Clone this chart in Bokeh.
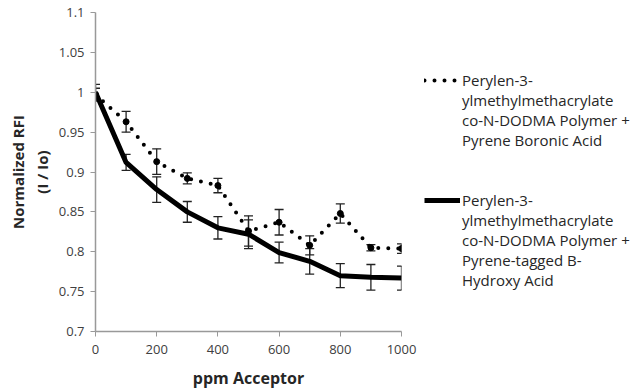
from bokeh.plotting import figure
from bokeh.models import (Range1d, Whisker, ColumnDataSource, Legend, LegendItem,
                          FixedTicker, TeeHead)
from bokeh.embed import file_html
from bokeh.resources import INLINE

ppm = [0, 100, 200, 300, 400, 500, 600, 700, 800, 900, 1000]
boronic = [0.997, 0.963, 0.913, 0.892, 0.883, 0.826, 0.837, 0.808, 0.848, 0.805, 0.804]
boronic_err = [0.008, 0.013, 0.016, 0.007, 0.009, 0.019, 0.016, 0.012, 0.012, 0.004, 0.006]
hydroxy = [1.0, 0.912, 0.878, 0.850, 0.830, 0.822, 0.799, 0.788, 0.770, 0.768, 0.767]
hydroxy_err = [0.010, 0.010, 0.016, 0.013, 0.014, 0.018, 0.013, 0.016, 0.015, 0.016, 0.015]
x_ticks = [0, 200, 400, 600, 800, 1000]
y_ticks = [0.7, 0.75, 0.8, 0.85, 0.9, 0.95, 1.0, 1.05, 1.1]
y_tick_labels = {0.7: "0.7", 0.75: "0.75", 0.8: "0.8", 0.85: "0.85", 0.9: "0.9",
                 0.95: "0.95", 1.0: "1", 1.05: "1.05", 1.1: "1.1"}
label_boronic = ["Perylen-3-", "ylmethylmethacrylate\nco-N-DODMA Polymer +\nPyrene Boronic Acid"]
label_hydroxy = ["Perylen-3-", "ylmethylmethacrylate\nco-N-DODMA Polymer +\nPyrene-tagged B-\nHydroxy Acid"]

FONT = "Open Sans"
GREY = "#404040"
TEXT = "#262626"

p = figure(output_backend="svg", toolbar_location=None,
           x_range=Range1d(0, 1000), y_range=Range1d(0.7, 1.1),
           min_border_left=88, min_border_right=0, min_border_top=12, min_border_bottom=45)
p.frame_width = 306
p.frame_height = 319
p.margin = (0, 0, 0, 4)
p.outline_line_color = None
p.background_fill_color = "white"
p.grid.visible = False

for ax in (p.xaxis[0], p.yaxis[0]):
    ax.axis_line_color = "#999999"
    ax.axis_line_width = 1.5
    ax.major_tick_line_color = "#999999"
    ax.major_tick_in = 0
    ax.major_tick_out = 5
    ax.minor_tick_line_color = None
    ax.major_label_text_font = FONT
    ax.major_label_text_font_size = "13px"
    ax.major_label_text_color = GREY
    ax.axis_label_text_font = FONT
    ax.axis_label_text_font_style = "bold"
    ax.axis_label_text_color = TEXT

p.xaxis.ticker = FixedTicker(ticks=x_ticks)
p.yaxis.ticker = FixedTicker(ticks=y_ticks)
p.yaxis.major_label_overrides = y_tick_labels
p.xaxis.major_label_standoff = 8
p.yaxis.major_label_standoff = 6
p.xaxis.axis_label = "ppm Acceptor"
p.yaxis.axis_label = "Normalized RFI\n(I / Io)"
p.xaxis.axis_label_text_font_size = "16px"
p.yaxis.axis_label_text_font_size = "15px"
p.xaxis.axis_label_standoff = 10
p.yaxis.axis_label_standoff = 4

src_b = ColumnDataSource(dict(x=ppm, y=boronic,
                              lo=[v - e for v, e in zip(boronic, boronic_err)],
                              hi=[v + e for v, e in zip(boronic, boronic_err)]))
src_h = ColumnDataSource(dict(x=ppm, y=hydroxy,
                              lo=[v - e for v, e in zip(hydroxy, hydroxy_err)],
                              hi=[v + e for v, e in zip(hydroxy, hydroxy_err)]))

r_b = p.line("x", "y", source=src_b, line_color="black", line_width=4,
             line_dash="0 10", line_cap="round")
p.scatter("x", "y", source=src_b, size=6, color="black")
r_h = p.line("x", "y", source=src_h, line_color="black", line_width=5, line_join="round")
r_blank = p.line("x", "y", source=src_h, line_alpha=0)

for src in (src_b, src_h):
    w = Whisker(base="x", upper="hi", lower="lo", source=src,
                line_color="#222222", line_width=1.3,
                upper_head=TeeHead(size=9, line_color="#222222", line_width=1.3),
                lower_head=TeeHead(size=9, line_color="#222222", line_width=1.3))
    p.add_layout(w)

items = [
    LegendItem(label=label_boronic[0], renderers=[r_b]),
    LegendItem(label=label_boronic[1], renderers=[r_blank]),
    LegendItem(label="\u00a0\n\u00a0", renderers=[r_blank]),
    LegendItem(label=label_hydroxy[0], renderers=[r_h]),
    LegendItem(label=label_hydroxy[1], renderers=[r_blank]),
]
lg = Legend(items=items, location=(23, 41), padding=0, margin=10, spacing=0,
            glyph_width=36, glyph_height=12, label_standoff=2,
            label_text_font=FONT, label_text_font_size="15px",
            label_text_color=TEXT, label_text_line_height=1.32,
            border_line_color=None, background_fill_alpha=0,
            label_height=12)
p.add_layout(lg, "right")

open("out.html", "w").write(file_html(p, INLINE))
